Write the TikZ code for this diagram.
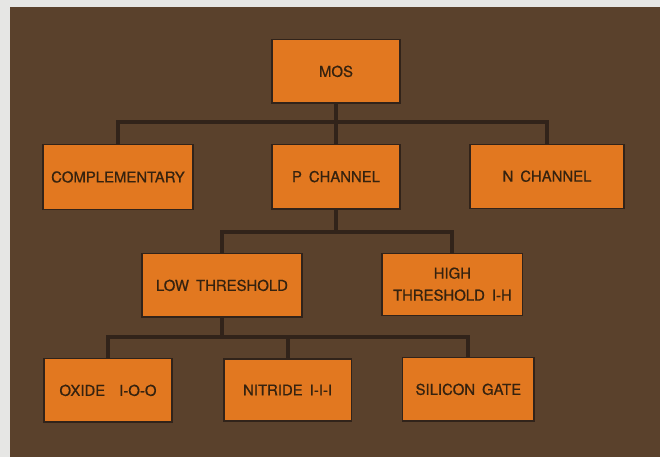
\documentclass[tikz,border=0pt]{standalone}
\usepackage{fontspec}
\setmainfont[WordSpace=1.7]{TeX Gyre Heros}
\newfontfamily\boxfont[WordSpace=1.7, FakeBold=0.7]{TeX Gyre Heros}
\usepackage{tikz}
\usetikzlibrary{positioning, calc}

\definecolor{plate}{HTML}{5A412C}
\definecolor{paper}{HTML}{E6E6E4}
\definecolor{card}{HTML}{E27820}
\definecolor{ink}{HTML}{35220F}
\definecolor{wirecol}{HTML}{31231A}

\begin{document}
\begin{tikzpicture}[
		block/.style={draw=wirecol, line width=0.8pt, rectangle, fill=card, text=ink, minimum height=1.58cm, align=center, font=\boxfont\fontsize{10.6}{15.6}\selectfont},
		wire/.style={draw=wirecol, line width=0.1cm}
		]
		
		% background plate
		\fill[paper] (0,0) rectangle (16.5,11.425);
		\fill[plate] (0.25,0) rectangle (16.5,11.25);
		\useasboundingbox (0,0) rectangle (16.5,11.425);
		
		% top level
		\node[block, minimum width=3.2cm] (mos) at (8.4, 9.64) {MOS};
		
		% second level
		\node[block, minimum width=3.75cm, minimum height=1.64cm] (comp) at (2.95, 7.0) {COMPLEMENTARY};
		\node[block, minimum width=3.2cm, minimum height=1.62cm] (pch) at (8.4, 7.01) {P CHANNEL};
		\node[block, minimum width=3.85cm, minimum height=1.6cm] (nch) at (13.675, 7.02) {N CHANNEL};
		
		% third level
		\node[block, minimum width=4.0cm] (low) at (5.55, 4.29) {LOW THRESHOLD};
		\node[block, minimum width=3.52cm, minimum height=1.55cm] (high) at (11.31, 4.32) {HIGH\\THRESHOLD I-H};
		
		% fourth level
		\node[block, minimum width=3.2cm] (oxide) at (2.7, 1.665) {OXIDE \ I-O-O};
		\node[block, minimum width=3.18cm, minimum height=1.55cm] (nitride) at (7.19, 1.675) {NITRIDE I-I-I};
		\node[block, minimum width=3.28cm] (sigate) at (11.71, 1.69) {SILICON GATE};
		
		% buses
		\coordinate (mosbus) at (8.4, 8.375);
		\coordinate (pbus) at (8.4, 5.625);
		\coordinate (lowbus) at (5.55, 3.0);
		
		\draw[wire] (mos) -- (mosbus) -- (pch);
		\draw[wire] (comp.north) |- (mosbus) -| (nch.north);
		\draw[wire] (pch) -- (pbus);
		\draw[wire] (low.north) |- (pbus) -| (high.north);
		\draw[wire] (low) -- (lowbus) -- (nitride.north |- lowbus) -- (nitride);
		\draw[wire] (oxide.north) |- (lowbus) -| (sigate.north);
	\end{tikzpicture}
\end{document}
